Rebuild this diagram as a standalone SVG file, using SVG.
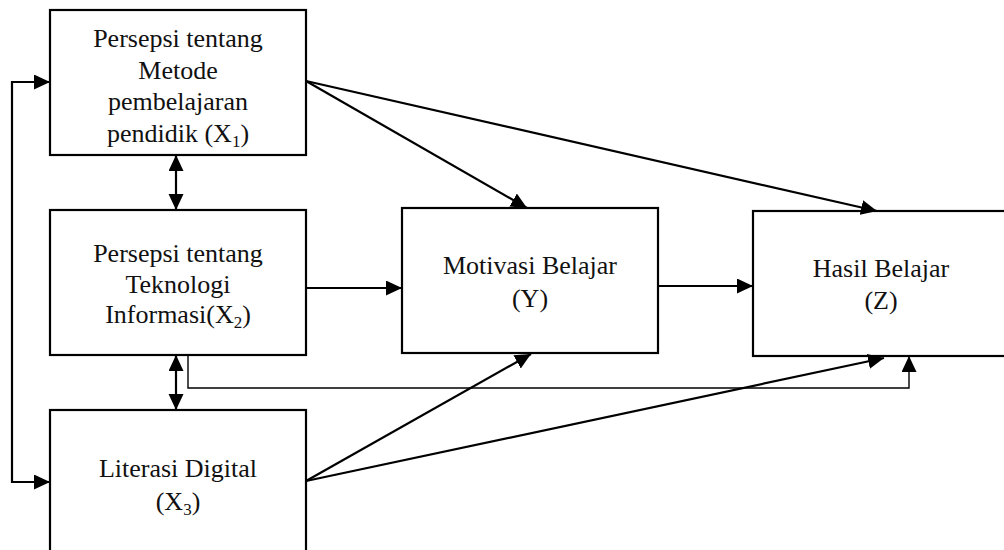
<svg xmlns="http://www.w3.org/2000/svg" width="1004" height="550" viewBox="0 0 1004 550">
<style>
.box{fill:#fff;stroke:#000;stroke-width:2.2}
.t{font-size:26px;fill:#111;text-anchor:middle}
.sub{font-size:17px}
.c{fill:none;stroke:#000;stroke-width:2.2}
.thin{fill:none;stroke:#000;stroke-width:1.4}
</style>
<defs>
<marker id="ah" markerUnits="userSpaceOnUse" markerWidth="17" markerHeight="16" refX="16" refY="7.5" orient="auto-start-reverse" viewBox="0 0 17 16">
<path d="M0,0 L16,7.5 L0,15 z" fill="#000"/>
</marker>
</defs>
<rect width="1004" height="550" fill="#fff"/>
<g font-family="Liberation Serif, Times New Roman, DejaVu Serif, serif">
<g id="X1">
<rect class="box" x="50" y="10" width="256" height="145"/>
<text class="t" x="178" y="46.5">Persepsi tentang</text>
<text class="t" x="178" y="78.5">Metode</text>
<text class="t" x="178" y="110">pembelajaran</text>
<text class="t" x="178" y="141.5">pendidik (X<tspan class="sub" dy="5">1</tspan><tspan dy="-5">)</tspan></text>
</g>
<g id="X2">
<rect class="box" x="50" y="210" width="256" height="145"/>
<text class="t" x="178" y="262">Persepsi tentang</text>
<text class="t" x="178" y="292.5">Teknologi</text>
<text class="t" x="178" y="323">Informasi(X<tspan class="sub" dy="5">2</tspan><tspan dy="-5">)</tspan></text>
</g>
<g id="X3">
<rect class="box" x="50" y="410" width="256" height="145"/>
<text class="t" x="178" y="476.5">Literasi Digital</text>
<text class="t" x="178" y="510">(X<tspan class="sub" dy="5">3</tspan><tspan dy="-5">)</tspan></text>
</g>
<g id="Y">
<rect class="box" x="402" y="208" width="256" height="145"/>
<text class="t" x="530" y="274">Motivasi Belajar</text>
<text class="t" x="530" y="306.5">(Y)</text>
</g>
<g id="Z">
<rect class="box" x="753" y="211" width="256" height="145"/>
<text class="t" x="881" y="277">Hasil Belajar</text>
<text class="t" x="881" y="308.5">(Z)</text>
</g>
</g>
<g id="connectors">
<path class="c" d="M50,82 H12 V482 H50" marker-start="url(#ah)" marker-end="url(#ah)"/>
<path class="c" d="M176,155 V210" marker-start="url(#ah)" marker-end="url(#ah)"/>
<path class="c" d="M176,355 V410" marker-start="url(#ah)" marker-end="url(#ah)"/>
<path class="c" d="M306,288 H402" marker-end="url(#ah)"/>
<path class="c" d="M658,286 H753" marker-end="url(#ah)"/>
<path class="c" d="M306,81 L527,208" marker-end="url(#ah)"/>
<path class="c" d="M306,81 L877,211" marker-end="url(#ah)"/>
<path class="c" d="M306,481 L531,354" marker-end="url(#ah)"/>
<path class="c" d="M306,481 L884,358" marker-end="url(#ah)"/>
<path class="thin" d="M188,355 V388 H909 V356" marker-end="url(#ah)"/>
</g>
</svg>
